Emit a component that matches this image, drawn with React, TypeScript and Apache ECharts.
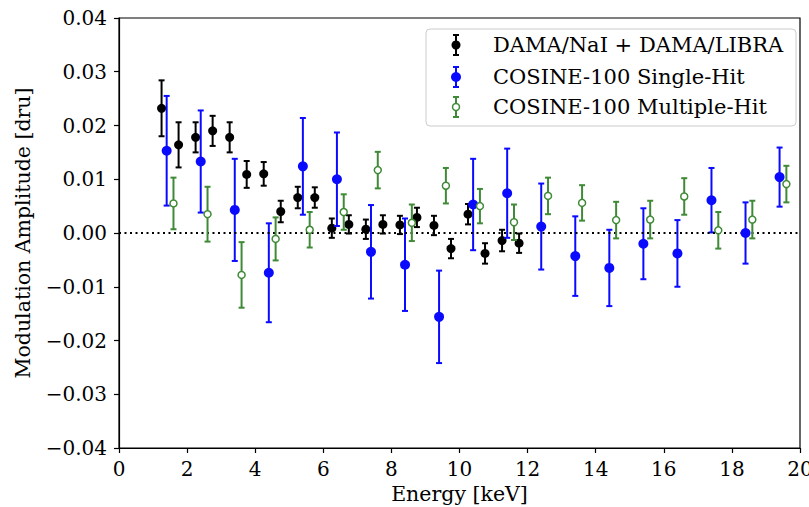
import React, { useEffect, useRef } from "react";
import * as echarts from "echarts";

const damaE = [1.25, 1.75, 2.25, 2.75, 3.25, 3.75, 4.25, 4.75, 5.25, 5.75, 6.25, 6.75, 7.25, 7.75, 8.25, 8.75, 9.25, 9.75, 10.25, 10.75, 11.25, 11.75];
const damaA = [0.0232, 0.0164, 0.0178, 0.019, 0.0178, 0.0109, 0.011, 0.004, 0.0066, 0.0066, 0.0009, 0.0016, 0.0007, 0.0016, 0.0015, 0.0029, 0.0014, -0.0029, 0.0035, -0.0038, -0.0014, -0.0019];
const damaErr = [0.0052, 0.0042, 0.0028, 0.0028, 0.0028, 0.0025, 0.0022, 0.002, 0.002, 0.0019, 0.0018, 0.0017, 0.0018, 0.0017, 0.0017, 0.0018, 0.0018, 0.0018, 0.0019, 0.0019, 0.002, 0.0018];

const singleE = [1.4, 2.4, 3.4, 4.4, 5.4, 6.4, 7.4, 8.4, 9.4, 10.4, 11.4, 12.4, 13.4, 14.4, 15.4, 16.4, 17.4, 18.4, 19.4];
const singleA = [0.0153, 0.0133, 0.0043, -0.0074, 0.0124, 0.01, -0.0035, -0.0059, -0.0156, 0.0053, 0.0074, 0.0012, -0.0043, -0.0065, -0.002, -0.0038, 0.0061, 0.0, 0.0104];
const singleErr = [0.0102, 0.0095, 0.0095, 0.0092, 0.009, 0.0087, 0.0087, 0.0086, 0.0086, 0.0085, 0.0083, 0.008, 0.0074, 0.0071, 0.0066, 0.0062, 0.006, 0.0057, 0.0055];

const multiE = [1.6, 2.6, 3.6, 4.6, 5.6, 6.6, 7.6, 8.6, 9.6, 10.6, 11.6, 12.6, 13.6, 14.6, 15.6, 16.6, 17.6, 18.6, 19.6];
const multiA = [0.0055, 0.0035, -0.0078, -0.0011, 0.0006, 0.0039, 0.0117, 0.0019, 0.0088, 0.005, 0.002, 0.0069, 0.0056, 0.0024, 0.0025, 0.0068, 0.0005, 0.0025, 0.0091];
const multiErr = [0.0048, 0.0051, 0.0061, 0.004, 0.0033, 0.0033, 0.0034, 0.0034, 0.0033, 0.0032, 0.0033, 0.0034, 0.0033, 0.0034, 0.0035, 0.0034, 0.0034, 0.0035, 0.0034];

const seriesNames = ["DAMA/NaI + DAMA/LIBRA", "COSINE-100 Single-Hit", "COSINE-100 Multiple-Hit"];

const BLACK = "#000000";
const BLUE = "#0a0aff";
const GREEN = "#3f8a36";
const FONT = "DejaVu Serif";

function errSeries(name: string, xs: number[], ys: number[], es: number[], color: string, z: number) {
  return {
    type: "custom",
    name: name + " err",
    z,
    silent: true,
    data: xs.map((x, i) => [x, ys[i], es[i]]),
    encode: { x: 0, y: 1 },
    renderItem: (_p: any, api: any) => {
      const x = api.value(0);
      const y = api.value(1);
      const e = api.value(2);
      const t = api.coord([x, y + e]);
      const b = api.coord([x, y - e]);
      const hw = 3;
      const st = { stroke: color, lineWidth: 2 };
      return {
        type: "group",
        children: [
          { type: "line", shape: { x1: t[0], y1: t[1], x2: b[0], y2: b[1] }, style: st },
          { type: "line", shape: { x1: t[0] - hw, y1: t[1], x2: t[0] + hw, y2: t[1] }, style: st },
          { type: "line", shape: { x1: b[0] - hw, y1: b[1], x2: b[0] + hw, y2: b[1] }, style: st },
        ],
      };
    },
  };
}

function legendGraphic() {
  const x0 = 426;
  const y0 = 29;
  const rows = [45, 77, 107];
  const colors = [BLACK, BLUE, GREEN];
  const children: any[] = [
    {
      type: "rect",
      shape: { x: x0, y: y0, width: 370, height: 97, r: 4 },
      style: { fill: "rgba(255,255,255,0.85)", stroke: "#cccccc", lineWidth: 1 },
    },
  ];
  rows.forEach((ry, i) => {
    const c = colors[i];
    const mx = 456;
    const st = { stroke: c, lineWidth: 2 };
    children.push({ type: "line", shape: { x1: mx, y1: ry - 10, x2: mx, y2: ry + 10 }, style: st });
    children.push({ type: "line", shape: { x1: mx - 3, y1: ry - 10, x2: mx + 3, y2: ry - 10 }, style: st });
    children.push({ type: "line", shape: { x1: mx - 3, y1: ry + 10, x2: mx + 3, y2: ry + 10 }, style: st });
    if (i === 2) {
      children.push({ type: "circle", shape: { cx: mx, cy: ry, r: 3.5 }, style: { fill: "#fff", stroke: c, lineWidth: 1.5 } });
    } else {
      children.push({ type: "circle", shape: { cx: mx, cy: ry, r: i === 1 ? 5 : 4.5 }, style: { fill: c } });
    }
    children.push({
      type: "text",
      x: 493,
      y: ry,
      style: { text: seriesNames[i], font: `21px "${FONT}"`, fill: "#000", textVerticalAlign: "middle", verticalAlign: "middle" },
    });
  });
  return [{ type: "group", z: 100, children }];
}

export default function App() {
  const ref = useRef<HTMLDivElement>(null);
  useEffect(() => {
    if (!ref.current) return;
    const chart = echarts.init(ref.current, null, { renderer: "svg" });
    const fmtY = (v: number) => {
      if (Math.abs(v) < 1e-9) return "0.00";
      return v < 0 ? "\u2212" + Math.abs(v).toFixed(2) : v.toFixed(2);
    };
    chart.setOption({
      animation: false,
      backgroundColor: "#ffffff",
      textStyle: { fontFamily: FONT },
      grid: {
        left: 119,
        right: 9,
        top: 18,
        bottom: 59,
        show: true,
        borderColor: "#000",
        borderWidth: 1.2,
        backgroundColor: "transparent",
        containLabel: false,
        outerBoundsMode: "none",
      },
      xAxis: {
        type: "value",
        min: 0,
        max: 20,
        interval: 2,
        name: "Energy [keV]",
        nameLocation: "middle",
        nameGap: 35,
        nameTextStyle: { fontFamily: FONT, fontSize: 20.5, color: "#000" },
        axisLine: { show: true, onZero: false, lineStyle: { color: "#000", width: 1.2 } },
        axisTick: { show: true, inside: false, length: 5, lineStyle: { color: "#000", width: 1.2 } },
        axisLabel: { fontFamily: FONT, fontSize: 20, color: "#000", margin: 11 },
        splitLine: { show: false },
      },
      yAxis: {
        type: "value",
        min: -0.04,
        max: 0.04,
        interval: 0.01,
        name: "Modulation Amplitude [dru]",
        nameLocation: "middle",
        nameGap: 86,
        nameTextStyle: { fontFamily: FONT, fontSize: 20.5, color: "#000" },
        axisLine: { show: true, onZero: false, lineStyle: { color: "#000", width: 1.2 } },
        axisTick: { show: true, inside: false, length: 5, lineStyle: { color: "#000", width: 1.2 } },
        axisLabel: { fontFamily: FONT, fontSize: 20, color: "#000", margin: 12, formatter: fmtY },
        splitLine: { show: false },
      },
      graphic: legendGraphic(),
      series: [
        {
          type: "line",
          name: "zero",
          data: [],
          z: 1,
          silent: true,
          markLine: {
            silent: true,
            symbol: "none",
            label: { show: false },
            lineStyle: { color: "#000", width: 2, type: [2, 3.5] },
            data: [{ yAxis: 0 }],
          },
        },
        errSeries(seriesNames[0], damaE, damaA, damaErr, BLACK, 2),
        {
          type: "scatter",
          name: seriesNames[0],
          z: 3,
          symbol: "circle",
          symbolSize: 9,
          itemStyle: { color: BLACK, opacity: 1 },
          data: damaE.map((x, i) => [x, damaA[i]]),
        },
        errSeries(seriesNames[1], singleE, singleA, singleErr, BLUE, 4),
        {
          type: "scatter",
          name: seriesNames[1],
          z: 5,
          symbol: "circle",
          symbolSize: 10,
          itemStyle: { color: BLUE, opacity: 1 },
          data: singleE.map((x, i) => [x, singleA[i]]),
        },
        errSeries(seriesNames[2], multiE, multiA, multiErr, GREEN, 6),
        {
          type: "scatter",
          name: seriesNames[2],
          z: 7,
          symbol: "circle",
          symbolSize: 7,
          itemStyle: { color: "#ffffff", borderColor: GREEN, borderWidth: 1.5, opacity: 1 },
          data: multiE.map((x, i) => [x, multiA[i]]),
        },
      ],
    });
    return () => chart.dispose();
  }, []);
  return <div ref={ref} style={{ position: "fixed", left: 0, top: 0, width: 809, height: 507 }} />;
}
